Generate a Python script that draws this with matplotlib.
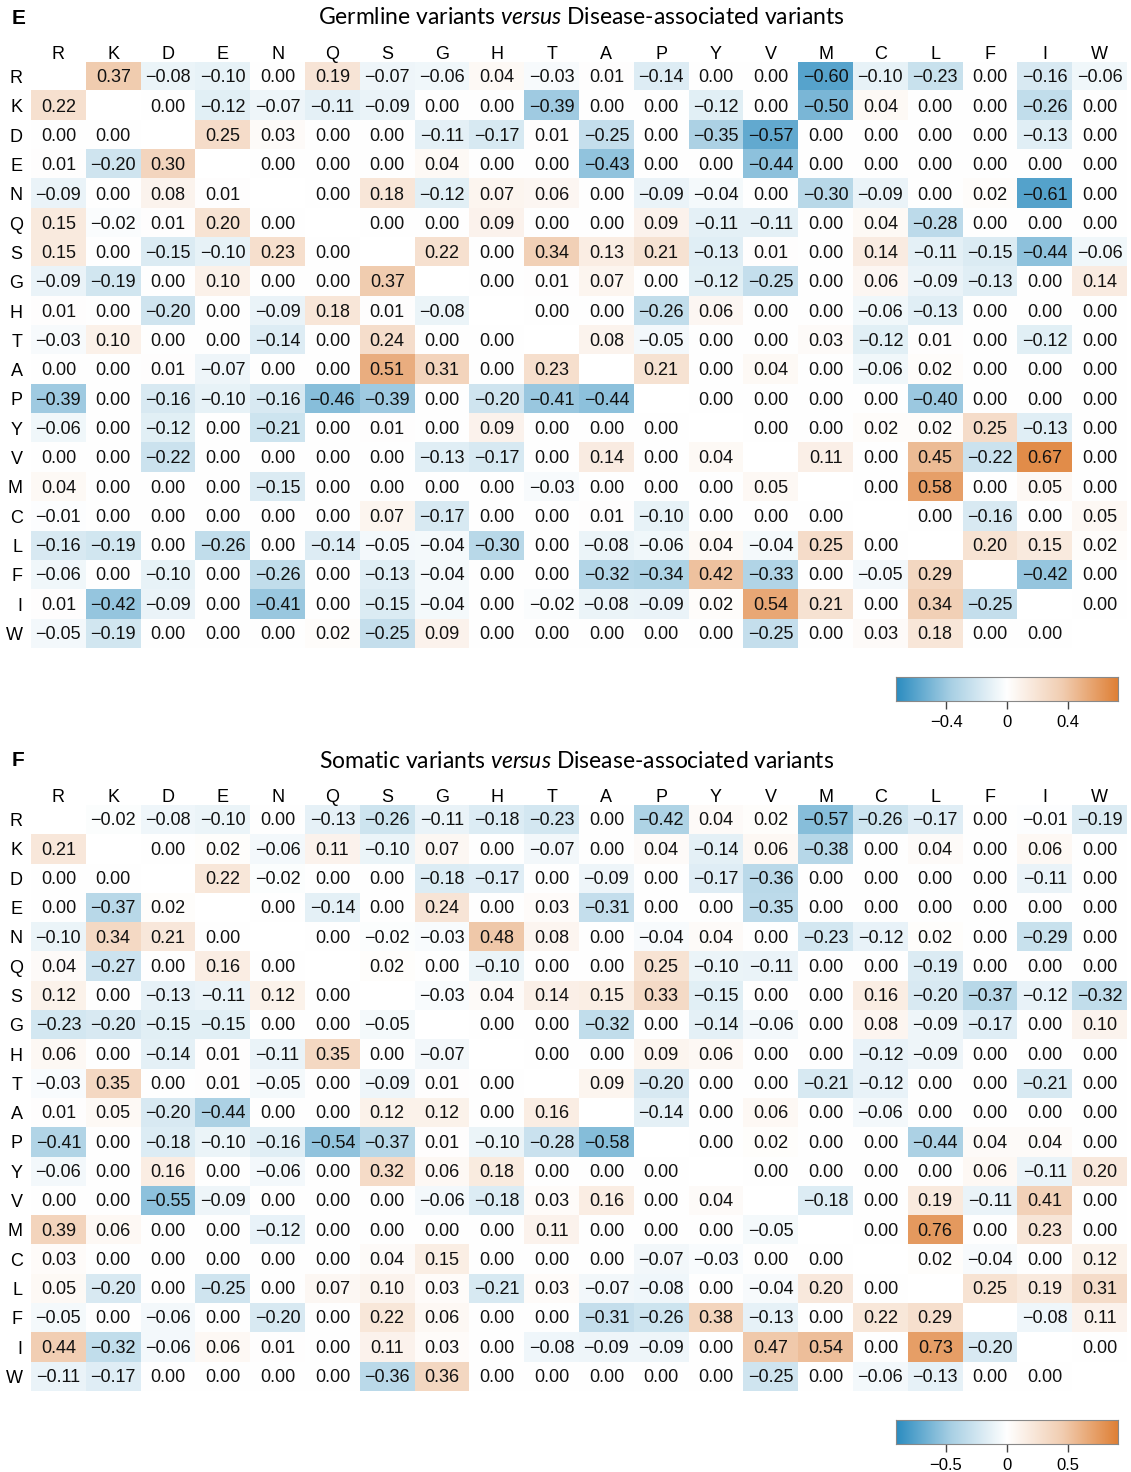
import numpy as np
import matplotlib
matplotlib.use("Agg")
import matplotlib.pyplot as plt
from matplotlib.colors import LinearSegmentedColormap

matplotlib.rcParams['font.family'] = ['Liberation Sans', 'DejaVu Sans']
matplotlib.rcParams['mathtext.fontset'] = 'custom'
matplotlib.rcParams['mathtext.it'] = 'Lato:italic'
matplotlib.rcParams['mathtext.rm'] = 'Lato'

amino = ["R", "K", "D", "E", "N", "Q", "S", "G", "H", "T",
         "A", "P", "Y", "V", "M", "C", "L", "F", "I", "W"]

N_ = None
# Germline variants versus Disease-associated variants
germline = [
    [N_, 0.37, -0.08, -0.10, 0.00, 0.19, -0.07, -0.06, 0.04, -0.03, 0.01, -0.14, 0.00, 0.00, -0.60, -0.10, -0.23, 0.00, -0.16, -0.06],
    [0.22, N_, 0.00, -0.12, -0.07, -0.11, -0.09, 0.00, 0.00, -0.39, 0.00, 0.00, -0.12, 0.00, -0.50, 0.04, 0.00, 0.00, -0.26, 0.00],
    [0.00, 0.00, N_, 0.25, 0.03, 0.00, 0.00, -0.11, -0.17, 0.01, -0.25, 0.00, -0.35, -0.57, 0.00, 0.00, 0.00, 0.00, -0.13, 0.00],
    [0.01, -0.20, 0.30, N_, 0.00, 0.00, 0.00, 0.04, 0.00, 0.00, -0.43, 0.00, 0.00, -0.44, 0.00, 0.00, 0.00, 0.00, 0.00, 0.00],
    [-0.09, 0.00, 0.08, 0.01, N_, 0.00, 0.18, -0.12, 0.07, 0.06, 0.00, -0.09, -0.04, 0.00, -0.30, -0.09, 0.00, 0.02, -0.61, 0.00],
    [0.15, -0.02, 0.01, 0.20, 0.00, N_, 0.00, 0.00, 0.09, 0.00, 0.00, 0.09, -0.11, -0.11, 0.00, 0.04, -0.28, 0.00, 0.00, 0.00],
    [0.15, 0.00, -0.15, -0.10, 0.23, 0.00, N_, 0.22, 0.00, 0.34, 0.13, 0.21, -0.13, 0.01, 0.00, 0.14, -0.11, -0.15, -0.44, -0.06],
    [-0.09, -0.19, 0.00, 0.10, 0.00, 0.00, 0.37, N_, 0.00, 0.01, 0.07, 0.00, -0.12, -0.25, 0.00, 0.06, -0.09, -0.13, 0.00, 0.14],
    [0.01, 0.00, -0.20, 0.00, -0.09, 0.18, 0.01, -0.08, N_, 0.00, 0.00, -0.26, 0.06, 0.00, 0.00, -0.06, -0.13, 0.00, 0.00, 0.00],
    [-0.03, 0.10, 0.00, 0.00, -0.14, 0.00, 0.24, 0.00, 0.00, N_, 0.08, -0.05, 0.00, 0.00, 0.03, -0.12, 0.01, 0.00, -0.12, 0.00],
    [0.00, 0.00, 0.01, -0.07, 0.00, 0.00, 0.51, 0.31, 0.00, 0.23, N_, 0.21, 0.00, 0.04, 0.00, -0.06, 0.02, 0.00, 0.00, 0.00],
    [-0.39, 0.00, -0.16, -0.10, -0.16, -0.46, -0.39, 0.00, -0.20, -0.41, -0.44, N_, 0.00, 0.00, 0.00, 0.00, -0.40, 0.00, 0.00, 0.00],
    [-0.06, 0.00, -0.12, 0.00, -0.21, 0.00, 0.01, 0.00, 0.09, 0.00, 0.00, 0.00, N_, 0.00, 0.00, 0.02, 0.02, 0.25, -0.13, 0.00],
    [0.00, 0.00, -0.22, 0.00, 0.00, 0.00, 0.00, -0.13, -0.17, 0.00, 0.14, 0.00, 0.04, N_, 0.11, 0.00, 0.45, -0.22, 0.67, 0.00],
    [0.04, 0.00, 0.00, 0.00, -0.15, 0.00, 0.00, 0.00, 0.00, -0.03, 0.00, 0.00, 0.00, 0.05, N_, 0.00, 0.58, 0.00, 0.05, 0.00],
    [-0.01, 0.00, 0.00, 0.00, 0.00, 0.00, 0.07, -0.17, 0.00, 0.00, 0.01, -0.10, 0.00, 0.00, 0.00, N_, 0.00, -0.16, 0.00, 0.05],
    [-0.16, -0.19, 0.00, -0.26, 0.00, -0.14, -0.05, -0.04, -0.30, 0.00, -0.08, -0.06, 0.04, -0.04, 0.25, 0.00, N_, 0.20, 0.15, 0.02],
    [-0.06, 0.00, -0.10, 0.00, -0.26, 0.00, -0.13, -0.04, 0.00, 0.00, -0.32, -0.34, 0.42, -0.33, 0.00, -0.05, 0.29, N_, -0.42, 0.00],
    [0.01, -0.42, -0.09, 0.00, -0.41, 0.00, -0.15, -0.04, 0.00, -0.02, -0.08, -0.09, 0.02, 0.54, 0.21, 0.00, 0.34, -0.25, N_, 0.00],
    [-0.05, -0.19, 0.00, 0.00, 0.00, 0.02, -0.25, 0.09, 0.00, 0.00, 0.00, 0.00, 0.00, -0.25, 0.00, 0.03, 0.18, 0.00, 0.00, N_],
]

# Somatic variants versus Disease-associated variants
somatic = [
    [N_, -0.02, -0.08, -0.10, 0.00, -0.13, -0.26, -0.11, -0.18, -0.23, 0.00, -0.42, 0.04, 0.02, -0.57, -0.26, -0.17, 0.00, -0.01, -0.19],
    [0.21, N_, 0.00, 0.02, -0.06, 0.11, -0.10, 0.07, 0.00, -0.07, 0.00, 0.04, -0.14, 0.06, -0.38, 0.00, 0.04, 0.00, 0.06, 0.00],
    [0.00, 0.00, N_, 0.22, -0.02, 0.00, 0.00, -0.18, -0.17, 0.00, -0.09, 0.00, -0.17, -0.36, 0.00, 0.00, 0.00, 0.00, -0.11, 0.00],
    [0.00, -0.37, 0.02, N_, 0.00, -0.14, 0.00, 0.24, 0.00, 0.03, -0.31, 0.00, 0.00, -0.35, 0.00, 0.00, 0.00, 0.00, 0.00, 0.00],
    [-0.10, 0.34, 0.21, 0.00, N_, 0.00, -0.02, -0.03, 0.48, 0.08, 0.00, -0.04, 0.04, 0.00, -0.23, -0.12, 0.02, 0.00, -0.29, 0.00],
    [0.04, -0.27, 0.00, 0.16, 0.00, N_, 0.02, 0.00, -0.10, 0.00, 0.00, 0.25, -0.10, -0.11, 0.00, 0.00, -0.19, 0.00, 0.00, 0.00],
    [0.12, 0.00, -0.13, -0.11, 0.12, 0.00, N_, -0.03, 0.04, 0.14, 0.15, 0.33, -0.15, 0.00, 0.00, 0.16, -0.20, -0.37, -0.12, -0.32],
    [-0.23, -0.20, -0.15, -0.15, 0.00, 0.00, -0.05, N_, 0.00, 0.00, -0.32, 0.00, -0.14, -0.06, 0.00, 0.08, -0.09, -0.17, 0.00, 0.10],
    [0.06, 0.00, -0.14, 0.01, -0.11, 0.35, 0.00, -0.07, N_, 0.00, 0.00, 0.09, 0.06, 0.00, 0.00, -0.12, -0.09, 0.00, 0.00, 0.00],
    [-0.03, 0.35, 0.00, 0.01, -0.05, 0.00, -0.09, 0.01, 0.00, N_, 0.09, -0.20, 0.00, 0.00, -0.21, -0.12, 0.00, 0.00, -0.21, 0.00],
    [0.01, 0.05, -0.20, -0.44, 0.00, 0.00, 0.12, 0.12, 0.00, 0.16, N_, -0.14, 0.00, 0.06, 0.00, -0.06, 0.00, 0.00, 0.00, 0.00],
    [-0.41, 0.00, -0.18, -0.10, -0.16, -0.54, -0.37, 0.01, -0.10, -0.28, -0.58, N_, 0.00, 0.02, 0.00, 0.00, -0.44, 0.04, 0.04, 0.00],
    [-0.06, 0.00, 0.16, 0.00, -0.06, 0.00, 0.32, 0.06, 0.18, 0.00, 0.00, 0.00, N_, 0.00, 0.00, 0.00, 0.00, 0.06, -0.11, 0.20],
    [0.00, 0.00, -0.55, -0.09, 0.00, 0.00, 0.00, -0.06, -0.18, 0.03, 0.16, 0.00, 0.04, N_, -0.18, 0.00, 0.19, -0.11, 0.41, 0.00],
    [0.39, 0.06, 0.00, 0.00, -0.12, 0.00, 0.00, 0.00, 0.00, 0.11, 0.00, 0.00, 0.00, -0.05, N_, 0.00, 0.76, 0.00, 0.23, 0.00],
    [0.03, 0.00, 0.00, 0.00, 0.00, 0.00, 0.04, 0.15, 0.00, 0.00, 0.00, -0.07, -0.03, 0.00, 0.00, N_, 0.02, -0.04, 0.00, 0.12],
    [0.05, -0.20, 0.00, -0.25, 0.00, 0.07, 0.10, 0.03, -0.21, 0.03, -0.07, -0.08, 0.00, -0.04, 0.20, 0.00, N_, 0.25, 0.19, 0.31],
    [-0.05, 0.00, -0.06, 0.00, -0.20, 0.00, 0.22, 0.06, 0.00, 0.00, -0.31, -0.26, 0.38, -0.13, 0.00, 0.22, 0.29, N_, -0.08, 0.11],
    [0.44, -0.32, -0.06, 0.06, 0.01, 0.00, 0.11, 0.03, 0.00, -0.08, -0.09, -0.09, 0.00, 0.47, 0.54, 0.00, 0.73, -0.20, N_, 0.00],
    [-0.11, -0.17, 0.00, 0.00, 0.00, 0.00, -0.36, 0.36, 0.00, 0.00, 0.00, 0.00, 0.00, -0.25, 0.00, -0.06, -0.13, 0.00, 0.00, N_],
]

W, H = 1131, 1472
cmap = LinearSegmentedColormap.from_list(
    "bwo", ["#2b8cc0", "#a9d0e4", "#ffffff", "#f1cdb1", "#df8036"])


def px_rect(x0, y0, x1, y1):
    # pixel box (top-left origin) -> figure fraction rect
    return [x0 / W, 1 - y1 / H, (x1 - x0) / W, (y1 - y0) / H]


def draw_panel(fig, data, letter, title, top, title_x, vlim, ticks, ticklabels):
    m = np.array([[np.nan if v is None else v for v in row] for row in data])
    ax = fig.add_axes(px_rect(31, top + 44, 1127, top + 630))
    ax.imshow(m, cmap=cmap, vmin=-vlim, vmax=vlim, aspect="auto",
              interpolation="nearest")
    for i in range(len(amino)):
        for j in range(len(amino)):
            v = data[i][j]
            if v is None:
                continue
            s = "%.2f" % v
            if s.startswith("-"):
                s = "\u2212" + s[1:]
            ax.text(j, i + 0.04, s, ha="center", va="center", fontsize=13,
                    color="#111111")
    ax.set_xticks(range(len(amino)))
    ax.set_xticklabels(amino, fontsize=13)
    ax.set_yticks(range(len(amino)))
    ax.set_yticklabels(amino, fontsize=13)
    ax.xaxis.tick_top()
    ax.tick_params(length=0)
    ax.tick_params(axis="x", pad=-1)
    ax.tick_params(axis="y", pad=6)
    for sp in ax.spines.values():
        sp.set_visible(False)

    fig.text(12 / W, 1 - top / H, letter, fontsize=15, weight="bold",
             va="center", ha="left")
    fig.text(title_x / W, 1 - top / H, title, fontsize=16.5,
             va="center", ha="center", family="Lato")

    # colour bar
    cax = fig.add_axes(px_rect(896, top + 659, 1118, top + 683))
    grad = np.linspace(-vlim, vlim, 256).reshape(1, -1)
    cax.imshow(grad, cmap=cmap, vmin=-vlim, vmax=vlim, aspect="auto",
               extent=[-vlim, vlim, 0, 1])
    cax.set_yticks([])
    cax.set_xticks(ticks)
    cax.set_xticklabels(ticklabels, fontsize=12)
    cax.tick_params(axis="x", length=6, width=1, color="#444444", pad=4)
    for sp in cax.spines.values():
        sp.set_color("#888888")
        sp.set_linewidth(0.8)


fig = plt.figure(figsize=(W / 100, H / 100), dpi=100)
draw_panel(fig, germline, "E",
           r"Germline variants $\mathit{versus}$ Disease-associated variants",
           18, 581, 0.73, [-0.4, 0, 0.4], ["\u22120.4", "0", "0.4"])
draw_panel(fig, somatic, "F",
           r"Somatic variants $\mathit{versus}$ Disease-associated variants",
           761, 577, 0.91, [-0.5, 0, 0.5], ["\u22120.5", "0", "0.5"])
fig.savefig("out.png", dpi=100)
